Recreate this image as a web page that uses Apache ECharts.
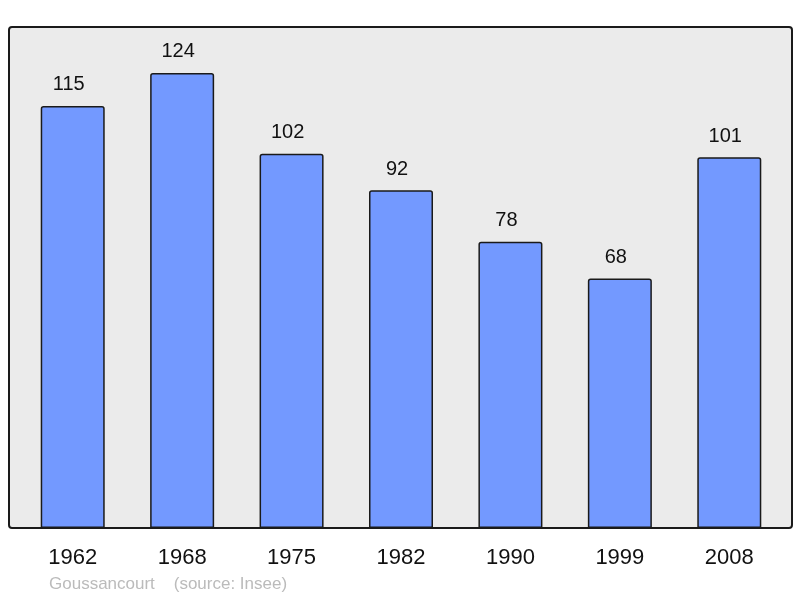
<!DOCTYPE html>
<html lang="fr">
  <head>
    <meta charset="UTF-8">
    <title>Goussancourt</title>
    <script src="https://cdn.jsdelivr.net/npm/echarts@6/dist/echarts.min.js"></script>
    <style>
      body { margin: 0; background: #fff; }
    </style>
  </head>
  <body>
    <div id="main" style="width: 800px;height:598px;"></div>
    <script type="text/javascript">
      // population by census year
      const years = ['1962', '1968', '1975', '1982', '1990', '1999', '2008'];
      const population = [115, 124, 102, 92, 78, 68, 101];
      const caption = 'Goussancourt    (source: Insee)';

      let myChart = echarts.init(document.getElementById('main'));

      let options = {
        animation: false,
        grid: { left: 18, right: 16, top: 27, bottom: 70 },
        graphic: [
          {
            type: 'rect',
            z: -1,
            shape: { x: 9, y: 27, width: 783, height: 501, r: 3 },
            style: { fill: '#ebebeb', stroke: '#1a1a1a', lineWidth: 2 }
          },
          {
            type: 'text',
            left: 49,
            top: 576,
            style: { text: caption, fill: '#bbbbbb', font: '17px "Liberation Sans", Arial, sans-serif' }
          }
        ],
        xAxis: {
          type: 'category',
          data: years,
          axisLine: { show: false },
          axisTick: { show: false },
          axisLabel: {
            margin: 19,
            color: '#111',
            fontSize: 22,
            fontFamily: '"Liberation Sans", Arial, sans-serif'
          }
        },
        yAxis: {
          type: 'value',
          min: 0,
          max: 136.5,
          show: false,
          splitLine: { show: false }
        },
        series: [{
          type: 'bar',
          data: population,
          barWidth: 64,
          itemStyle: {
            color: '#7399ff',
            borderColor: '#1a1a1a',
            borderWidth: 1.5,
            borderRadius: [2, 2, 0, 0]
          },
          label: {
            show: true,
            position: 'top',
            distance: 11,
            offset: [-4, 0],
            color: '#111',
            fontSize: 20,
            fontFamily: '"Liberation Sans", Arial, sans-serif'
          }
        }]
      };

      myChart.setOption(options);
    </script>
  </body>
</html>
